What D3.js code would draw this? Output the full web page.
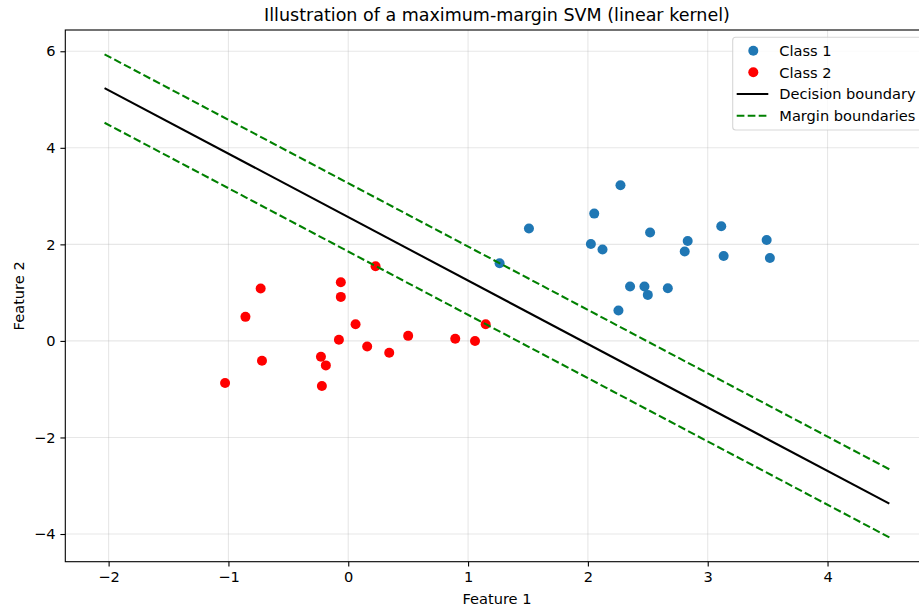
<!DOCTYPE html>
<html>
<head>
<meta charset="utf-8">
<script src="https://cdn.jsdelivr.net/npm/d3@7"></script>
<style>
  html, body { margin: 0; padding: 0; background: #fff; }
  svg { display: block; overflow: hidden; }
  text { font-family: "DejaVu Sans", sans-serif; fill: #000; }
</style>
</head>
<body>
<svg id="chart" width="919" height="609"></svg>
<script>
// ---- data ----
const class1X = [2.272, 2.053, 1.508, 2.519, 3.113, 3.492, 2.833, 2.025, 2.122, 2.808, 3.133, 3.519, 1.263, 2.352, 2.472, 2.500, 2.667, 2.255];
const class1Y = [3.223, 2.637, 2.327, 2.244, 2.374, 2.091, 2.070, 2.008, 1.892, 1.851, 1.760, 1.719, 1.609, 1.127, 1.127, 0.953, 1.092, 0.631];
const class2X = [0.228, -0.062, -0.731, -0.062, -0.858, 0.061, 1.147, 0.500, -0.078, 0.893, 1.058, 0.158, 0.342, -0.720, -0.228, -0.187, -1.028, -0.220];
const class2Y = [1.547, 1.216, 1.086, 0.912, 0.498, 0.347, 0.347, 0.105, 0.023, 0.043, 0.000, -0.116, -0.246, -0.412, -0.329, -0.507, -0.873, -0.935];
const lineX = [-2.034, 4.516];
const boundaryY = [5.238, -3.371];
const marginUpperY = [5.937, -2.660];
const marginLowerY = [4.519, -4.070];
const xTicks = [-2, -1, 0, 1, 2, 3, 4];
const yTicks = [-4, -2, 0, 2, 4, 6];
const legendLabels = ["Class 1", "Class 2", "Decision boundary", "Margin boundaries"];

// ---- layout ----
const svg = d3.select("#chart");
const L = 65.3, R = 928.6, T = 30, B = 561.7;
const x = d3.scaleLinear().domain([-2.3615, 4.8435]).range([L, R]);
const y = d3.scaleLinear().domain([-4.5735, 6.4405]).range([B, T]);
const fs = 14.6;

// grid
const grid = svg.append("g");
grid.selectAll("line.gx").data(xTicks).enter().append("line")
  .attr("x1", d => x(d)).attr("x2", d => x(d)).attr("y1", T).attr("y2", B)
  .attr("stroke", "#b0b0b0").attr("stroke-opacity", 0.3).attr("stroke-width", 1.1);
grid.selectAll("line.gy").data(yTicks).enter().append("line")
  .attr("y1", d => y(d)).attr("y2", d => y(d)).attr("x1", L).attr("x2", R)
  .attr("stroke", "#b0b0b0").attr("stroke-opacity", 0.3).attr("stroke-width", 1.1);

// points
const c1 = d3.range(class1X.length).map(i => [class1X[i], class1Y[i]]);
const c2 = d3.range(class2X.length).map(i => [class2X[i], class2Y[i]]);
svg.append("g").selectAll("circle").data(c1).enter().append("circle")
  .attr("cx", d => x(d[0])).attr("cy", d => y(d[1])).attr("r", 5).attr("fill", "#1f77b4");
svg.append("g").selectAll("circle").data(c2).enter().append("circle")
  .attr("cx", d => x(d[0])).attr("cy", d => y(d[1])).attr("r", 5).attr("fill", "#ff0000");

// lines
const line = d3.line().x(d => x(d[0])).y(d => y(d[1]));
const mk = ys => lineX.map((v, i) => [v, ys[i]]);
svg.append("path").attr("d", line(mk(boundaryY))).attr("fill", "none")
  .attr("stroke", "#000").attr("stroke-width", 2.08);
[marginUpperY, marginLowerY].forEach(ys => {
  svg.append("path").attr("d", line(mk(ys))).attr("fill", "none")
    .attr("stroke", "#008000").attr("stroke-width", 2.08).attr("stroke-dasharray", "7.7,3.3");
});

// axes
const xAxis = d3.axisBottom(x).tickValues(xTicks).tickSize(4.9).tickPadding(4.9).tickSizeOuter(0);
const yAxis = d3.axisLeft(y).tickValues(yTicks).tickSize(4.9).tickPadding(4.9).tickSizeOuter(0);
const gx = svg.append("g").attr("transform", `translate(0,${B})`).call(xAxis);
const gy = svg.append("g").attr("transform", `translate(${L},0)`).call(yAxis);
[gx, gy].forEach(g => {
  g.select(".domain").remove();
  g.selectAll(".tick line").attr("stroke", "#000").attr("stroke-width", 1.1);
  g.selectAll(".tick text").style("font-family", "DejaVu Sans").style("font-size", fs + "px").attr("fill", "#000");
});

// frame (spines)
svg.append("rect").attr("x", L).attr("y", T).attr("width", R - L).attr("height", B - T)
  .attr("fill", "none").attr("stroke", "#000").attr("stroke-width", 1.1);

// title & labels
svg.append("text").attr("x", (L + R) / 2).attr("y", 20.7).attr("text-anchor", "middle")
  .style("font-size", "17.5px").text("Illustration of a maximum-margin SVM (linear kernel)");
svg.append("text").attr("x", (L + R) / 2).attr("y", 604).attr("text-anchor", "middle")
  .style("font-size", fs + "px").text("Feature 1");
svg.append("text").attr("transform", `translate(23.5,${(T + B) / 2}) rotate(-90)`).attr("text-anchor", "middle")
  .style("font-size", fs + "px").text("Feature 2");

// legend
const lg = svg.append("g");
lg.append("rect").attr("x", 732.7).attr("y", 37.3).attr("width", 188.9).attr("height", 92.7)
  .attr("rx", 3).attr("fill", "#fff").attr("fill-opacity", 0.8)
  .attr("stroke", "#cccccc").attr("stroke-opacity", 0.8).attr("stroke-width", 1.1);
const rowY = [50.7, 72.3, 94, 115.7];
lg.append("circle").attr("cx", 753.3).attr("cy", rowY[0]).attr("r", 5).attr("fill", "#1f77b4");
lg.append("circle").attr("cx", 753.3).attr("cy", rowY[1]).attr("r", 5).attr("fill", "#ff0000");
lg.append("line").attr("x1", 736.7).attr("x2", 768.3).attr("y1", rowY[2]).attr("y2", rowY[2])
  .attr("stroke", "#000").attr("stroke-width", 2.08);
lg.append("line").attr("x1", 736.7).attr("x2", 768.3).attr("y1", rowY[3]).attr("y2", rowY[3])
  .attr("stroke", "#008000").attr("stroke-width", 2.08).attr("stroke-dasharray", "7.7,3.3");
lg.selectAll("text").data(legendLabels).enter().append("text")
  .attr("x", 779.3).attr("y", (d, i) => rowY[i]).attr("dy", "0.36em")
  .style("font-size", fs + "px").text(d => d);
</script>
</body>
</html>
